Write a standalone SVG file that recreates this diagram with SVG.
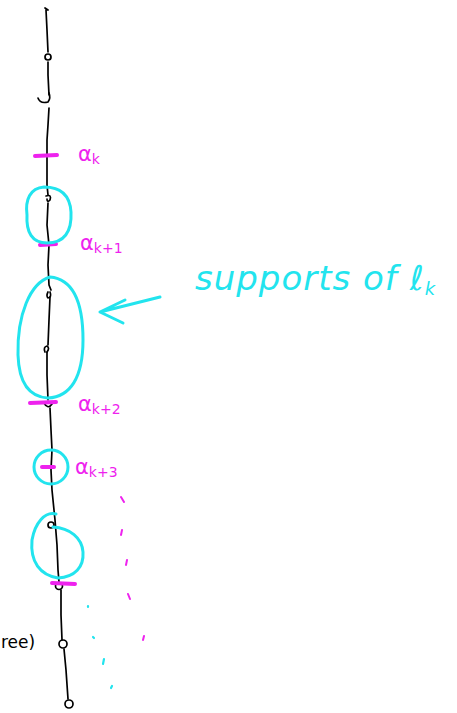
<svg xmlns="http://www.w3.org/2000/svg" width="457" height="713" viewBox="0 0 457 713">
<style>
.blk{fill:none;stroke:#000;stroke-width:1.7;stroke-linecap:round;stroke-linejoin:round}
.cy{fill:none;stroke:#22e4ee;stroke-width:3;stroke-linecap:round;stroke-linejoin:round}
.mg{fill:none;stroke:#ee22ee;stroke-width:4;stroke-linecap:round}
.mgd{fill:none;stroke:#ee22ee;stroke-width:2;stroke-linecap:round}
.cyd{fill:none;stroke:#22e4ee;stroke-width:2.2;stroke-linecap:round}
.lbl{font-family:"DejaVu Sans",sans-serif;fill:#ee22ee;font-size:21px}
.lbl tspan{font-size:14px}
.big{font-family:"DejaVu Sans",sans-serif;fill:#22e4ee;font-size:34px;font-style:italic;letter-spacing:1px}
.blt{font-family:"DejaVu Sans",sans-serif;fill:#000;font-size:17px}
</style>
<rect width="457" height="713" fill="#fff"/>
<g id="connectors">
<path class="blk" d="M46 10 L47 30 L48 52 M48 62 L48 75 L49 95 M49 108 L48 125 L47 140 L47 160 L47 185 L48 195 M48 203 L47 225 L49 245 L48 265 L49 285 L51 290 M50 297 L49 320 L48 345 M47 352 L47 375 L48 400 M50 408 L51 430 L52 450 L51 470 L52 490 L54 510 L55 520 L57 545 L58 570 L59 582 M61 590 L61 615 L62 640 M64 649 L66 670 L68 699 M45 8 L48 10"/>
<circle class="blk" cx="48" cy="57" r="3"/>
<path class="blk" d="M38 98 Q40 104 48 102 Q51 98 49 93"/>
<path class="blk" d="M46 196 Q52 194 50 200 Q47 203 47 199"/>
<path class="blk" d="M50 292 Q52 297 48 298 Q46 296 48 292"/>
<path class="blk" d="M45 352 Q43 347 47 346 Q50 348 47 352"/>
<path class="blk" d="M44 403 Q48 410 52 404"/>
<circle class="blk" cx="51" cy="525" r="3"/>
<circle class="blk" cx="59" cy="586" r="3.5"/>
<circle class="blk" cx="63" cy="644" r="4"/>
<circle class="blk" cx="69" cy="704" r="4"/>
</g>
<g id="bars">
<path class="mg" d="M35 156 L57 155"/>
<path class="mg" d="M40 245 L56 244"/>
<path class="mg" d="M30 403 L56 402"/>
<path class="mg" d="M42 467 L54 467"/>
<path class="mg" d="M52 583 L75 584"/>
</g>
<g id="supports">
<path class="cy" d="M44 187 C30 188 25 200 27 215 C26 232 32 243 47 243 C64 243 72 232 71 212 C70 196 62 187 44 187 Z"/>
<path class="cy" d="M50 277 C30 283 17 315 18 355 C19 385 30 397 48 398 C70 397 83 378 83 340 C83 300 72 279 50 277 Z"/>
<circle class="cy" cx="51" cy="467" r="17"/>
<path class="cy" d="M56 514 C45 511 35 523 32 540 C30 562 40 575 58 578 C75 577 84 567 83 552 C82 538 70 528 53 527"/>
</g>
<g id="labels">
<text class="lbl" x="78" y="161">α<tspan dy="3">k</tspan></text>
<text class="lbl" x="80" y="250">α<tspan dy="3">k+1</tspan></text>
<text class="lbl" x="78" y="411">α<tspan dy="3">k+2</tspan></text>
<text class="lbl" x="75" y="474">α<tspan dy="3">k+3</tspan></text>
<text class="blt" x="1" y="648">ree)</text>
</g>
<g id="arrow">
<path class="cy" d="M160 297 L100 312 M125 300 L100 312 L123 323"/>
<text class="big" x="195" y="290">supports of ℓ<tspan font-size="18" dy="5">k</tspan></text>
</g>
<g id="dots">
<path class="mgd" d="M121 497 L124 502 M122 530 L121 535 M127 560 L126 565 M128 594 L130 599 M144 636 L143 640"/>
<path class="cyd" d="M88 606 L88 607 M93 637 L94 638 M104 659 L103 664 M112 686 L111 688"/>
</g>
</svg>
